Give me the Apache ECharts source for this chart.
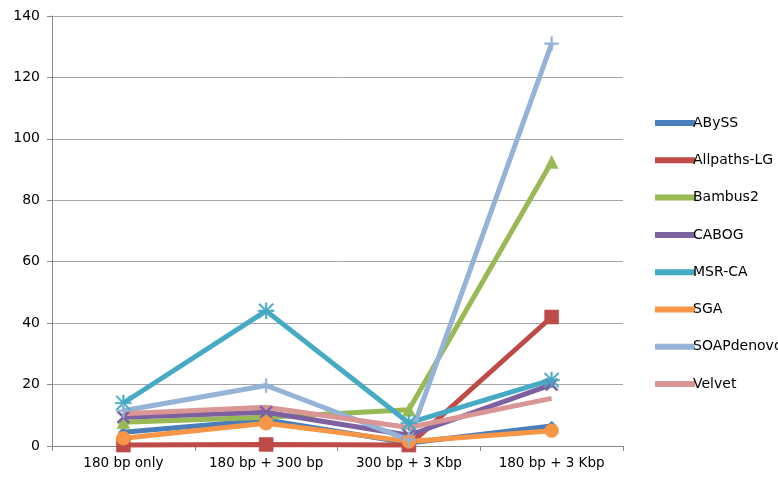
<!DOCTYPE html>
<html><head><meta charset="utf-8">
<script src="https://cdn.jsdelivr.net/npm/echarts@6/dist/echarts.min.js"></script>
<style>html,body{margin:0;padding:0;background:#fff}#c{width:778px;height:478px}</style>
</head><body><div id="c"></div>
<script>
const categories = ["180 bp only", "180 bp + 300 bp", "300 bp + 3 Kbp", "180 bp + 3 Kbp"];
const ABySS = [4.5, 8.5, 1, 6.5];
const AllpathsLG = [0.3, 0.5, 0.3, 42];
const Bambus2 = [7.7, 9.4, 11.8, 92.5];
const CABOG = [9.4, 11, 3.5, 20];
const MSRCA = [14, 44, 7.5, 21.5];
const SGA = [2.5, 7.4, 1.5, 5];
const SOAPdenovo = [11.5, 19.7, 2, 131];
const Velvet = [10.5, 12.6, 6, 15.5];
const yTicks = [0, 20, 40, 60, 80, 100, 120, 140];

const X = 'path://M0,1.2 L1.2,0 L5,3.8 L8.8,0 L10,1.2 L6.2,5 L10,8.8 L8.8,10 L5,6.2 L1.2,10 L0,8.8 L3.8,5 Z';
const PLUS = 'path://M4.4,0 H5.6 V4.4 H10 V5.6 H5.6 V10 H4.4 V5.6 H0 V4.4 H4.4 Z';
const STAR = 'path://M4.5,0 H5.5 V4.5 H10 V5.5 H5.5 V10 H4.5 V5.5 H0 V4.5 H4.5 Z M0.3,1 L1,0.3 L5,4.3 L9,0.3 L9.7,1 L5.7,5 L9.7,9 L9,9.7 L5,5.7 L1,9.7 L0.3,9 L4.3,5 Z';

const defs = [
  ["ABySS", ABySS, "#4a7ebb", "diamond", 10],
  ["Allpaths-LG", AllpathsLG, "#be4b48", "rect", 14],
  ["Bambus2", Bambus2, "#98b954", "triangle", 13],
  ["CABOG", CABOG, "#7d60a0", X, 13],
  ["MSR-CA", MSRCA, "#46aac5", STAR, 16],
  ["SGA", SGA, "#f79646", "circle", 14],
  ["SOAPdenovo", SOAPdenovo, "#95b3d7", PLUS, 14],
  ["Velvet", Velvet, "#d99694", "none", 0]
];

const font = "DejaVu Sans";
const chart = echarts.init(document.getElementById('c'));
chart.setOption({
  animation: false,
  textStyle: {fontFamily: font},
  grid: {left: 52, right: 155, top: 16, bottom: 32, containLabel: false},
  legend: {
    orient: 'vertical', left: 650, top: 111, itemGap: 23.3, itemWidth: 38, itemHeight: 16,
    textStyle: {fontFamily: font, fontSize: 14, color: '#000', padding: [0,0,0,-6]},
    data: defs.map(d => ({name: d[0], icon: 'path://M0,6 H38 V10 H0 Z'}))
  },
  xAxis: {
    type: 'category', data: categories, boundaryGap: true,
    axisLine: {lineStyle: {color: '#888', width: 1}},
    axisTick: {show: true, length: 5, lineStyle: {color: '#888'}},
    axisLabel: {color: '#000', fontSize: 13.5, margin: 10, interval: 0, fontFamily: font}
  },
  yAxis: {
    type: 'value', min: 0, max: 140, interval: 20,
    axisLine: {show: true, lineStyle: {color: '#888', width: 1}},
    axisTick: {show: true, length: 5, lineStyle: {color: '#888'}},
    splitLine: {lineStyle: {color: '#a6a6a6', width: 1}},
    axisLabel: {color: '#000', fontSize: 14, margin: 12, fontFamily: font,
      customValues: yTicks}
  },
  series: defs.map(d => ({
    name: d[0], type: 'line', data: d[1],
    color: d[2],
    lineStyle: {width: 5, color: d[2]},
    symbol: d[3], symbolSize: d[4], showSymbol: d[3] !== 'none',
    itemStyle: {color: d[2], borderColor: d[2], borderWidth: 0.5},
    emphasis: {disabled: true}
  }))
});
</script>
</body></html>
